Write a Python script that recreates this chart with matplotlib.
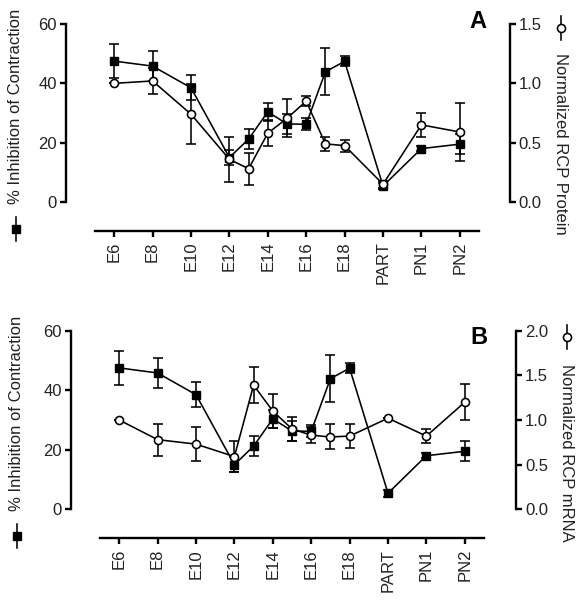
import matplotlib
matplotlib.use("Agg")
import matplotlib.pyplot as plt
from matplotlib.lines import Line2D

plt.rcParams['font.family'] = ['Liberation Sans', 'DejaVu Sans']

# x axis categories
tick_labels = ["E6", "E8", "E10", "E12", "E14", "E16", "E18", "PART", "PN1", "PN2"]
# stage positions on the category axis (E13, E15, E17 sit between ticks)
stages = ["E6", "E8", "E10", "E12", "E13", "E14", "E15", "E16", "E17", "E18", "PART", "PN1", "PN2"]
stage_pos = [0, 1, 2, 3, 3.5, 4, 4.5, 5, 5.5, 6, 7, 8, 9]

# % inhibition of contraction (same in both panels)
inhibition = [47.5, 45.8, 38.5, 15.0, 21.2, 30.4, 26.3, 26.2, 43.9, 47.4, 5.4, 18.0, 19.5]
inhibition_err = [5.8, 5.0, 4.2, 2.6, 3.3, 3.0, 3.5, 2.0, 8.0, 1.7, 1.1, 0.8, 3.3]

# panel A: normalized RCP protein
protein = [1.0, 1.02, 0.74, 0.36, 0.28, 0.58, 0.705, 0.85, 0.49, 0.475, 0.15, 0.65, 0.59]
protein_err = [0.0, 0.11, 0.255, 0.19, 0.135, 0.11, 0.16, 0.045, 0.06, 0.05, 0.03, 0.1, 0.245]

# panel B: normalized RCP mRNA
mrna = [1.0, 0.78, 0.73, 0.59, 1.39, 1.1, 0.9, 0.83, 0.81, 0.82, 1.02, 0.82, 1.2]
mrna_err = [0.0, 0.18, 0.19, 0.17, 0.2, 0.19, 0.13, 0.087, 0.14, 0.13, 0.0, 0.077, 0.2]

W, H = 585, 602
fig = plt.figure(figsize=(W / 100, H / 100), dpi=100)

lw = 1.15
spine_w = 1.7
tick_fs = 12
label_fs = 12
sq_size = 5.3
circ_size = 5.8


def px(x, y):
    # pixel coords (top-left origin) -> figure fraction
    return x / W, 1 - y / H


def make_panel(rect, right_vals, right_err, right_max, right_ticks, right_label,
               letter, offs, left_lab, right_lab, letter_xy):
    ax = fig.add_axes(rect)
    ax2 = ax.twinx()

    ax.errorbar(stage_pos, inhibition, yerr=inhibition_err, fmt='-s', color='black',
                markersize=sq_size, linewidth=lw, elinewidth=lw, capsize=3.5, capthick=lw,
                markerfacecolor='black', zorder=3)
    ax2.errorbar(stage_pos, right_vals, yerr=right_err, fmt='-o', color='black',
                 markersize=circ_size, linewidth=lw, elinewidth=lw, capsize=3.5, capthick=lw,
                 markerfacecolor='white', markeredgewidth=lw, zorder=3)

    ax.set_xlim(-0.5, 9.5)
    ax.set_ylim(0, 60)
    ax2.set_ylim(0, right_max)
    ax.set_yticks([0, 20, 40, 60])
    ax2.set_yticks(right_ticks)
    ax2.set_yticklabels(["%.1f" % t for t in right_ticks])
    ax.set_xticks(range(len(tick_labels)))
    ax.set_xticklabels(tick_labels)

    for a in (ax, ax2):
        a.spines['top'].set_visible(False)
        a.patch.set_visible(False)
        for s in a.spines.values():
            s.set_linewidth(spine_w)
        a.tick_params(direction='out', length=4.5, width=spine_w, labelsize=tick_fs,
                      pad=2, labelcolor='#222222')
    ax.tick_params(axis='x', labelrotation=90, pad=3)
    ax.spines['right'].set_visible(False)
    ax2.spines['left'].set_visible(False)
    ax2.spines['bottom'].set_visible(False)
    ax.spines['left'].set_position(('outward', offs[0]))
    ax.spines['bottom'].set_position(('outward', offs[1]))
    ax2.spines['right'].set_position(('outward', offs[2]))

    # left axis label with filled-square key
    lx, ly, my = left_lab
    fx, fy = px(lx, ly)
    fig.text(fx, fy, "% Inhibition of Contraction", rotation=90, ha='center',
             va='center', fontsize=label_fs, color='#222222')
    kx, ky1 = px(lx, my - 12)
    _, kym = px(lx, my)
    _, ky2 = px(lx, my + 12)
    fig.add_artist(Line2D([kx, kx], [ky1, ky2], color='black', lw=lw,
                          transform=fig.transFigure))
    fig.add_artist(Line2D([kx], [kym], marker='s', color='black', markersize=sq_size,
                          transform=fig.transFigure))

    # right axis label with open-circle key
    rx, ry, rmy = right_lab
    fx, fy = px(rx, ry)
    fig.text(fx, fy, right_label, rotation=-90, ha='center', va='center',
             fontsize=label_fs, color='#222222')
    kx, ky1 = px(rx, rmy - 12)
    _, kym = px(rx, rmy)
    _, ky2 = px(rx, rmy + 12)
    fig.add_artist(Line2D([kx, kx], [ky1, ky2], color='black', lw=lw,
                          transform=fig.transFigure))
    fig.add_artist(Line2D([kx], [kym], marker='o', color='black', markersize=circ_size,
                          markerfacecolor='white', markeredgewidth=lw,
                          transform=fig.transFigure))

    tx, ty = px(*letter_xy)
    fig.text(tx, ty, letter, fontsize=17, fontweight='bold', ha='center', va='center')
    return ax


make_panel([95 / W, 1 - 202 / H, 384 / W, 178 / H], protein, protein_err, 1.5,
           [0.0, 0.5, 1.0, 1.5], "Normalized RCP Protein", "A", (21, 21, 22),
           (16, 106, 229), (561, 144, 28), (478, 22))

make_panel([100 / W, 1 - 509.3 / H, 384 / W, 178.6 / H], mrna, mrna_err, 2.0,
           [0.0, 0.5, 1.0, 1.5, 2.0], "Normalized RCP mRNA", "B", (21, 21, 23),
           (17, 413, 536), (567, 453, 337), (479, 338))

fig.savefig("out.png", dpi=100)
